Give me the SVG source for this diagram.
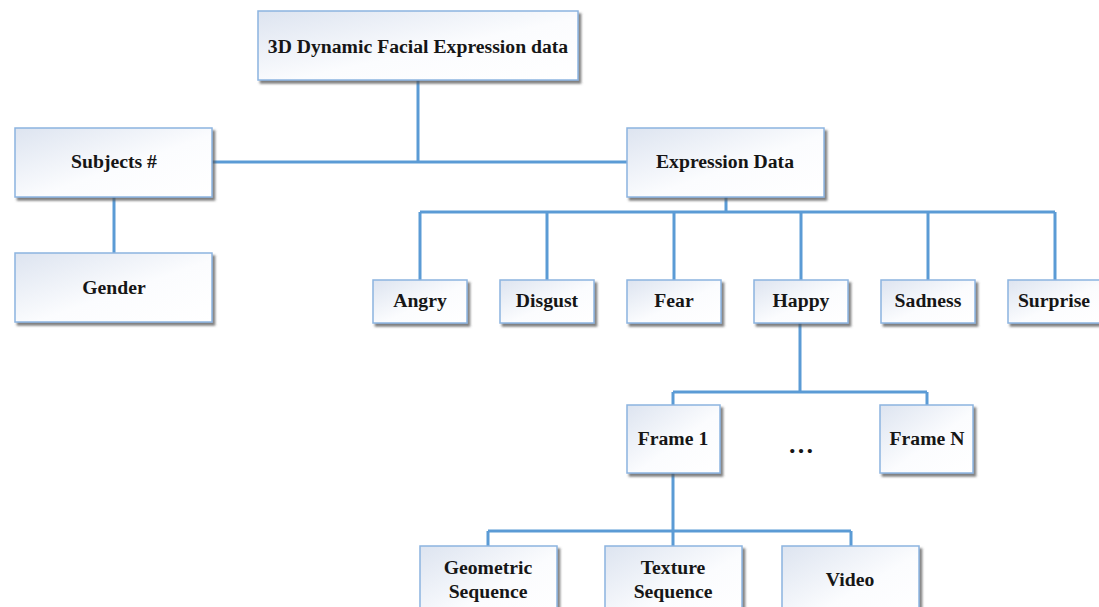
<svg xmlns="http://www.w3.org/2000/svg" width="1099" height="607" viewBox="0 0 1099 607">
  <style>
    .box { fill: url(#boxFill); stroke: #8cb4e0; stroke-width: 1.5; filter: url(#shadow); }
    .lbl { font-family: "Liberation Serif", "Times New Roman", serif; font-weight: bold; font-size: 19.7px; fill: #161616; text-anchor: middle; }
    .dots { font-size: 26px; }
    .link { fill: none; stroke: #5b9bd5; stroke-width: 3; }
  </style>
  <defs>
    <linearGradient id="boxFill" x1="0" y1="0" x2="1" y2="1">
      <stop offset="0" stop-color="#dde4f0"/>
      <stop offset="0.55" stop-color="#fbfcfe"/>
      <stop offset="1" stop-color="#ffffff"/>
    </linearGradient>
    <filter id="shadow" x="-10%" y="-10%" width="125%" height="130%">
      <feDropShadow dx="2.5" dy="3" stdDeviation="1.3" flood-color="#555555" flood-opacity="0.75"/>
    </filter>
  </defs>
  <rect width="1099" height="607" fill="#ffffff"/>

  <!-- connectors -->
  <g id="connectors">
    <path class="link" d="M418 80 V162 M212 162 H627"/>
    <path class="link" d="M114 197 V253"/>
    <path class="link" d="M726 197 V212 M420 212 H1055 M420 212 V280 M547 212 V280 M674 212 V280 M801 212 V280 M928 212 V280 M1055 212 V280"/>
    <path class="link" d="M800 323 V392 M673 392 H927 M673 392 V405 M927 392 V405"/>
    <path class="link" d="M673 473 V546 M488 531 H851 M488 531 V546 M851 531 V546"/>
  </g>

  <!-- root -->
  <g id="root">
    <rect class="box" x="258" y="11" width="320" height="69"/>
    <text class="lbl" x="418" y="53">3D Dynamic Facial Expression data</text>
  </g>

  <g id="subjects">
    <rect class="box" x="15" y="128" width="197" height="69"/>
    <text class="lbl" x="114" y="168">Subjects #</text>
  </g>
  <g id="gender">
    <rect class="box" x="15" y="253" width="197" height="69"/>
    <text class="lbl" x="114" y="294">Gender</text>
  </g>

  <g id="expression">
    <rect class="box" x="627" y="128" width="197" height="69"/>
    <text class="lbl" x="725" y="168">Expression Data</text>
  </g>

  <!-- emotion categories -->
  <g id="angry">
    <rect class="box" x="373" y="280" width="94" height="43"/>
    <text class="lbl" x="420" y="307">Angry</text>
  </g>
  <g id="disgust">
    <rect class="box" x="500" y="280" width="94" height="43"/>
    <text class="lbl" x="547" y="307">Disgust</text>
  </g>
  <g id="fear">
    <rect class="box" x="627" y="280" width="94" height="43"/>
    <text class="lbl" x="674" y="307">Fear</text>
  </g>
  <g id="happy">
    <rect class="box" x="754" y="280" width="94" height="43"/>
    <text class="lbl" x="801" y="307">Happy</text>
  </g>
  <g id="sadness">
    <rect class="box" x="881" y="280" width="94" height="43"/>
    <text class="lbl" x="928" y="307">Sadness</text>
  </g>
  <g id="surprise">
    <rect class="box" x="1008" y="280" width="94" height="43"/>
    <text class="lbl" x="1054" y="307">Surprise</text>
  </g>

  <!-- frames -->
  <g id="frame1">
    <rect class="box" x="627" y="405" width="93" height="68"/>
    <text class="lbl" x="673" y="445">Frame 1</text>
  </g>
  <g id="ellipsis">
    <text class="lbl dots" x="801" y="453">…</text>
  </g>
  <g id="frameN">
    <rect class="box" x="880" y="405" width="93" height="68"/>
    <text class="lbl" x="927" y="445">Frame N</text>
  </g>

  <!-- per-frame data -->
  <g id="geometric">
    <rect class="box" x="420" y="546" width="137" height="80"/>
    <text class="lbl" x="488" y="574">Geometric</text>
    <text class="lbl" x="488" y="598">Sequence</text>
  </g>
  <g id="texture">
    <rect class="box" x="605" y="546" width="137" height="80"/>
    <text class="lbl" x="673" y="574">Texture</text>
    <text class="lbl" x="673" y="598">Sequence</text>
  </g>
  <g id="video">
    <rect class="box" x="782" y="546" width="137" height="80"/>
    <text class="lbl" x="850" y="586">Video</text>
  </g>
</svg>
